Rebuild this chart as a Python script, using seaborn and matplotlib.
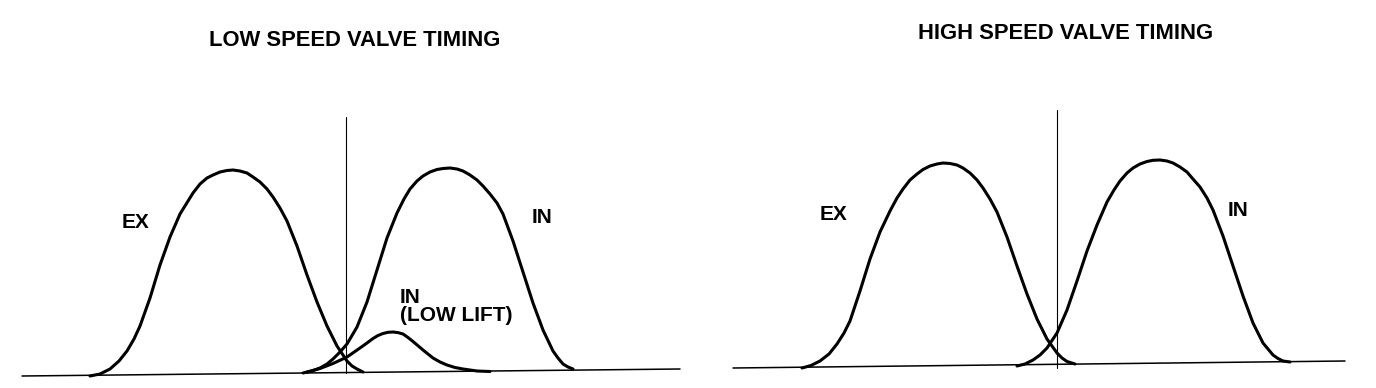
import matplotlib
matplotlib.use("Agg")
import matplotlib.pyplot as plt
import seaborn as sns
import pandas as pd

# ---------------- data (figure-pixel units) ----------------
# Left panel: LOW SPEED VALVE TIMING
low_ex_x = [90, 100, 110, 119, 127, 134, 140, 150, 160, 170, 180, 193, 200, 207, 213,
            220, 227, 233, 240, 247, 253, 260, 267, 273, 280, 287, 297, 307, 317, 327,
            337, 347, 352, 357, 363]
low_ex_y = [376, 374, 369, 361, 351, 339, 326, 298, 265, 237, 214, 193, 184, 178, 175,
            172, 170.5, 170, 171, 173, 177, 182, 189, 197, 208, 221, 246, 275, 302, 326,
            346, 361, 366, 369, 372]

low_in_x = [303, 312, 320, 327, 333, 340, 347, 357, 367, 377, 387, 397, 404, 410, 417,
            423, 430, 437, 443, 450, 457, 463, 470, 477, 483, 490, 497, 503, 513, 523,
            533, 543, 553, 558, 563, 568, 573]
low_in_y = [373, 371, 368, 364, 359, 352, 344, 327, 302, 270, 238, 213, 199, 189, 181,
            176, 172, 169.5, 168.5, 168, 169, 171, 175, 180, 186, 194, 203, 214, 241, 272,
            303, 330, 351, 358, 364, 367, 369]

low_lift_x = [307, 320, 333, 347, 360, 367, 373, 378, 383, 388, 393, 398, 403, 408, 413,
              423, 433, 440, 447, 455, 463, 477, 490]
low_lift_y = [372, 368.5, 363.5, 357, 348, 343, 338.5, 335.5, 333.5, 332.3, 332, 332.6,
              334, 337.5, 341.5, 350, 358, 362, 365, 367.5, 369, 371, 371.5]

low_base_x = [22, 680]
low_base_y = [376, 369]
low_tdc_x = [346, 346]
low_tdc_y = [117, 373]

# Right panel: HIGH SPEED VALVE TIMING
high_ex_x = [802, 811, 820, 829, 837, 844, 850, 860, 870, 880, 890, 897, 903, 910, 917,
             923, 930, 937, 943, 950, 957, 963, 970, 977, 983, 990, 997, 1007, 1017, 1027,
             1037, 1047, 1057, 1062, 1067, 1075]
high_ex_y = [368, 365.5, 361, 354, 344, 333, 321, 291, 259, 232, 211, 198, 189, 180, 174,
             169.5, 166, 164, 163, 163.5, 165, 168, 173, 180, 188, 199, 212, 237, 266, 294,
             319, 339, 353, 358, 361.5, 364]

high_in_x = [1017, 1025, 1033, 1040, 1047, 1057, 1067, 1077, 1087, 1097, 1107, 1114, 1120,
             1127, 1133, 1140, 1147, 1153, 1160, 1167, 1173, 1180, 1187, 1193, 1200, 1207,
             1213, 1223, 1233, 1243, 1253, 1263, 1273, 1278, 1283, 1290]
high_in_y = [366, 364, 360, 355, 348, 333, 310, 281, 251, 225, 202, 190, 181,
             173, 168, 164, 161.5, 160.3, 160, 161, 163, 167, 172, 179, 187, 198,
             210, 236, 266, 296, 323, 343, 355, 358.5, 361, 362]

high_base_x = [733, 1345]
high_base_y = [368, 361]
high_tdc_x = [1057, 1057]
high_tdc_y = [110, 368]

titles = ["LOW SPEED VALVE TIMING", "HIGH SPEED VALVE TIMING"]
curve_labels = ["EX", "IN", "(LOW LIFT)"]

# ---------------- drawing ----------------
sns.set_theme(style="white")
plt.rcParams["font.family"] = ["Liberation Sans", "DejaVu Sans"]

fig = plt.figure(figsize=(13.76, 3.88), dpi=100)
ax = fig.add_axes([0, 0, 1, 1])
ax.set_xlim(0, 1376)
ax.set_ylim(388, 0)
ax.axis("off")


def draw(xs, ys, lw):
    df = pd.DataFrame({"x": xs, "y": ys})
    sns.lineplot(data=df, x="x", y="y", ax=ax, color="black", linewidth=lw,
                 estimator=None, sort=False, solid_joinstyle="round",
                 solid_capstyle="round")


# baselines and TDC lines
draw(low_base_x, low_base_y, 1.1)
draw(high_base_x, high_base_y, 1.1)
draw(low_tdc_x, low_tdc_y, 0.8)
draw(high_tdc_x, high_tdc_y, 0.8)

# valve lift curves
for xs, ys in [(low_ex_x, low_ex_y), (low_in_x, low_in_y), (low_lift_x, low_lift_y),
               (high_ex_x, high_ex_y), (high_in_x, high_in_y)]:
    draw(xs, ys, 2.2)

# titles
tkw = dict(fontsize=15.8, fontweight="bold", color="black", va="baseline", ha="center")
ax.text(355, 46.5, titles[0], **tkw)
ax.text(1066, 39, titles[1], **tkw)

# curve labels
lkw = dict(fontsize=15, fontweight="bold", color="black", va="baseline", ha="left")
ax.text(122, 228, curve_labels[0], **lkw)
ax.text(532, 223, curve_labels[1], **lkw)
ax.text(400, 303, curve_labels[1], **lkw)
ax.text(400, 321, curve_labels[2], **lkw)
ax.text(820, 220, curve_labels[0], **lkw)
ax.text(1228, 216, curve_labels[1], **lkw)

fig.savefig("out.png", dpi=100, facecolor="white")
